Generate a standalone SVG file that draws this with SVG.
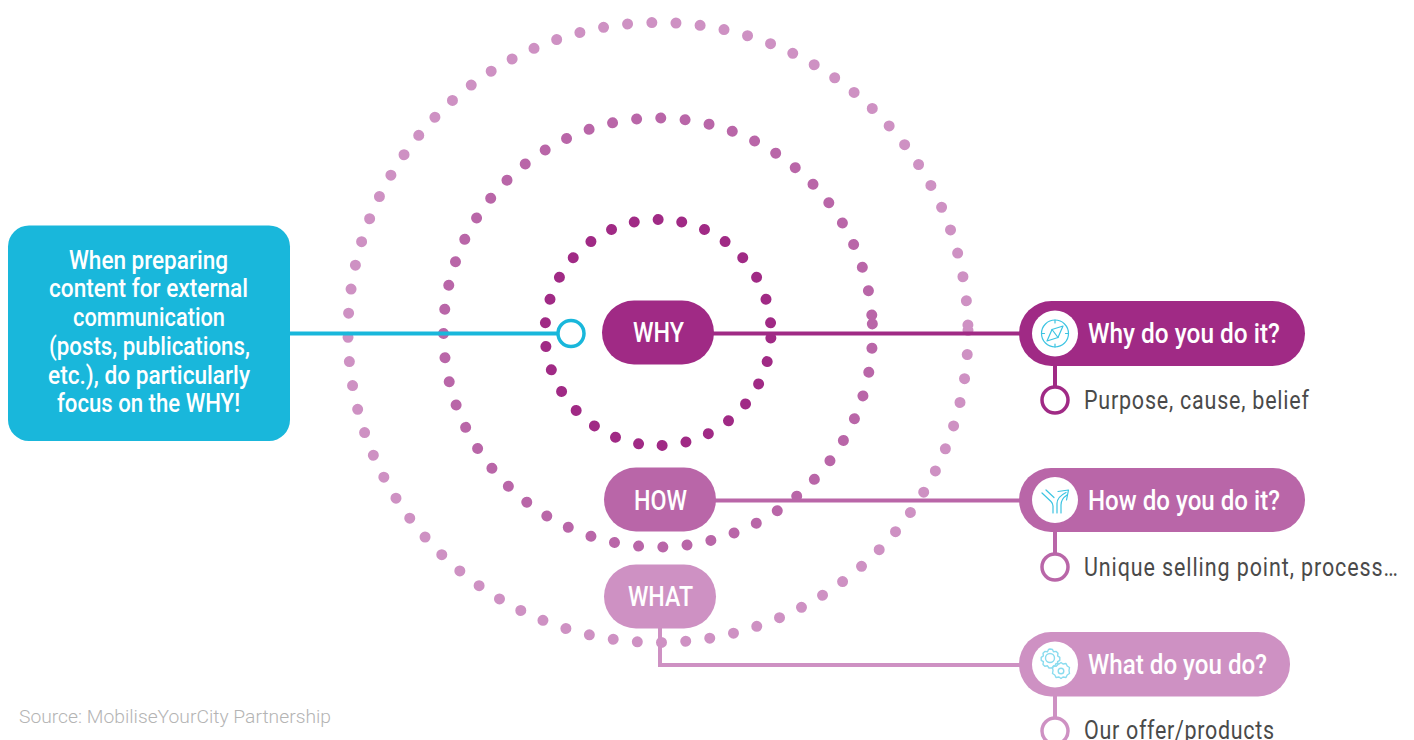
<svg xmlns="http://www.w3.org/2000/svg" width="1414" height="740" viewBox="0 0 1414 740">
<style>
.ring{fill:none;stroke-width:11;stroke-linecap:round}
.why{fill:#A02A85}.how{fill:#B966A8}.what{fill:#CE91C3}
.lw{stroke:#A02A85}.lh{stroke:#B966A8}.lt{stroke:#CE91C3}
.ln{fill:none;stroke-width:4}
.end{fill:#fff;stroke-width:3.5}
.t{font-family:Roboto,"Liberation Sans",sans-serif;fill:#fff;font-weight:500;font-size:26px}
.s{font-family:Roboto,"Liberation Sans",sans-serif;fill:#4a4a4a;font-size:25px}
.i{fill:none;stroke:#3CC4E2;stroke-width:1.2;stroke-linecap:round;stroke-linejoin:round}
.g{fill:none;stroke:#8ADCEF;stroke-width:1.4;stroke-linejoin:round}
</style>
<rect width="1414" height="740" fill="#fff"/>
<g id="rings">
<circle class="ring lt" cx="658" cy="332.5" r="310" stroke-dasharray="0 24.27" transform="rotate(-0.4 658 332.5)"/>
<circle class="ring lh" cx="658" cy="332.5" r="214.5" stroke-dasharray="0 24.33" transform="rotate(-2.3 658 332.5)"/>
<circle class="ring lw" cx="658" cy="332.5" r="113" stroke-dasharray="0 23.93" transform="rotate(2.8 658 332.5)"/>
</g>
<g id="connectors">
<path class="ln" stroke="#19B7DB" d="M288 333.5H558"/>
<path class="ln lw" d="M712 333.5H1022M1055 362V388"/>
<path class="ln lh" d="M714 500.5H1022M1055 530V555"/>
<path class="ln lt" d="M660 627V665H1022M1055 694V719"/>
</g>
<g id="note">
<rect x="8" y="225.500" width="282" height="215.500" rx="21" fill="#19B7DB"/>
<text class="t" x="69" y="269" textLength="159" lengthAdjust="spacingAndGlyphs">When preparing</text>
<text class="t" x="49" y="297" textLength="199" lengthAdjust="spacingAndGlyphs">content for external</text>
<text class="t" x="73" y="326" textLength="152" lengthAdjust="spacingAndGlyphs">communication</text>
<text class="t" x="49" y="355" textLength="201" lengthAdjust="spacingAndGlyphs">(posts, publications,</text>
<text class="t" x="48" y="384" textLength="202" lengthAdjust="spacingAndGlyphs">etc.), do particularly</text>
<text class="t" x="57" y="412" textLength="183" lengthAdjust="spacingAndGlyphs">focus on the WHY!</text>
</g>
<g id="note-end"><circle class="end" stroke="#19B7DB" cx="571" cy="333.500" r="13"/></g>
<g id="why">
<rect class="why" x="602" y="300.500" width="112" height="64" rx="32"/>
<text class="t" x="633" y="342" textLength="51" lengthAdjust="spacingAndGlyphs" style="font-size:28px">WHY</text>
</g>
<g id="how">
<rect class="how" x="604" y="467.500" width="112" height="64" rx="32"/>
<text class="t" x="634" y="509.500" textLength="53" lengthAdjust="spacingAndGlyphs" style="font-size:28px">HOW</text>
</g>
<g id="what">
<rect class="what" x="604" y="564.500" width="112" height="64" rx="32"/>
<text class="t" x="628" y="606" textLength="65" lengthAdjust="spacingAndGlyphs" style="font-size:28px">WHAT</text>
</g>
<g id="why-q">
<rect class="why" x="1019" y="301" width="286" height="65" rx="32.500"/>
<circle cx="1055" cy="333.500" r="23" fill="#fff"/>
<g class="i">
<circle cx="1055" cy="333.500" r="13.500"/>
<path d="M1055 320v3M1055 344v3M1041.500 333.500h3M1065.500 333.500h3"/>
<path d="M1063 326L1058 337.500L1047 341L1052 329.500Z"/>
<path d="M1052 329.500L1058 337.500"/>
</g>
<text class="t" x="1088" y="343" textLength="192" lengthAdjust="spacingAndGlyphs" style="font-size:27px">Why do you do it?</text>
<circle class="end lw" cx="1055" cy="400" r="13"/>
<text class="s" transform="translate(1084 409) scale(.86 1)" textLength="261.600" lengthAdjust="spacing">Purpose, cause, belief</text>
</g>
<g id="how-q">
<rect class="how" x="1019" y="468" width="286" height="64" rx="32"/>
<circle cx="1055" cy="500" r="23" fill="#fff"/>
<g class="i">
<path d="M1042 493L1051 501.500Q1053 503.500 1053 506V513"/>
<path d="M1046 490L1054 497.500"/>
<path d="M1057 513V503.500Q1057 497 1066 492.500"/>
<path d="M1061 513V505Q1061 499 1067 495"/>
<path d="M1058 491.500L1068.500 490L1066.500 500"/>
</g>
<text class="t" x="1088" y="510" textLength="192" lengthAdjust="spacingAndGlyphs" style="font-size:27px">How do you do it?</text>
<circle class="end lh" cx="1055" cy="567" r="13"/>
<text class="s" transform="translate(1084 576) scale(.86 1)" textLength="365" lengthAdjust="spacing">Unique selling point, process…</text>
</g>
<g id="what-q">
<rect class="what" x="1019" y="632" width="271" height="64.500" rx="32"/>
<circle cx="1055" cy="664.500" r="23" fill="#fff"/>
<g class="g">
<path d="M1050 649l2.500 .5l1 2.300l2.700 -.4l1.800 1.800l-.4 2.700l2.200 1.400v3l-2.200 1.400l.4 2.700l-1.800 1.800l-2.700 -.4l-1.500 2.200h-3l-1.500 -2.200l-2.700 .4l-1.800 -1.800l.4 -2.700l-2.200 -1.400v-3l2.200 -1.400l-.4 -2.700l1.800 -1.800l2.700 .4l1 -2.300z"/>
<circle cx="1050" cy="658" r="4.500"/>
<path d="M1061 662.500l2 1.500l3 -.5l1.200 2.500l2.300 1.500l-.5 3l.5 3l-2.300 1.500l-1.200 2.500l-3 -.5l-2 1.500l-2 -1.500l-3 .5l-1.200 -2.500l-2.300 -1.500l.5 -3l-.5 -3l2.300 -1.500l1.200 -2.500l3 .5z"/>
<circle cx="1061" cy="671" r="2.800"/>
</g>
<text class="t" x="1088" y="674" textLength="179" lengthAdjust="spacingAndGlyphs" style="font-size:27px">What do you do?</text>
<circle class="end lt" cx="1055" cy="731" r="13"/>
<text class="s" transform="translate(1084 739) scale(.86 1)" textLength="221" lengthAdjust="spacing">Our offer/products</text>
</g>
<g id="source">
<text x="19" y="723" textLength="312" lengthAdjust="spacingAndGlyphs" font-family="Roboto,'Liberation Sans',sans-serif" font-size="19" font-weight="300" fill="#b4b4b4">Source: MobiliseYourCity Partnership</text>
</g>
</svg>
